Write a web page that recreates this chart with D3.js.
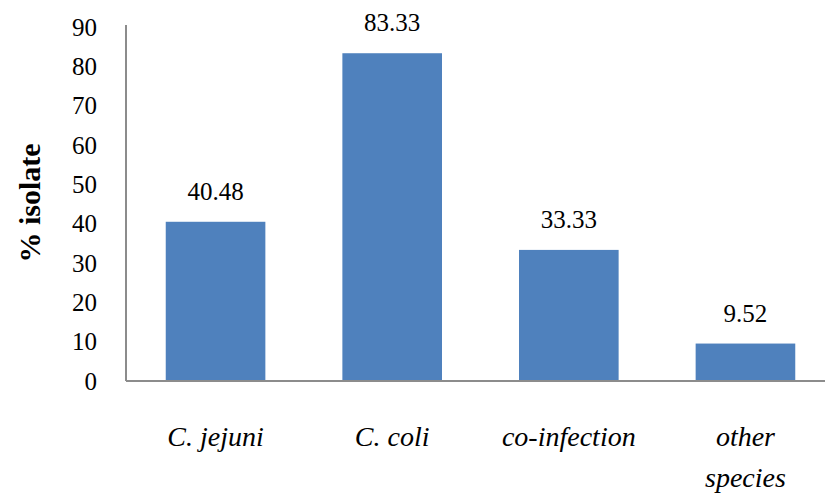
<!DOCTYPE html>
<html><head><meta charset="utf-8">
<script src="https://cdn.jsdelivr.net/npm/d3@7"></script>
</head><body style="margin:0;background:#fff">
<svg id="c" width="825" height="493" font-family="Liberation Serif"></svg>
<script>
const categories = [["C. jejuni"], ["C. coli"], ["co-infection"], ["other", "species"]];
const values = [40.48, 83.33, 33.33, 9.52];
const yTicks = [0, 10, 20, 30, 40, 50, 60, 70, 80, 90];

const svg = d3.select("#c");
const pLeft = 126, pRight = 835, pTop = 27, pBottom = 381;
const x = d3.scaleBand().domain(categories.map((d, i) => i)).range([pLeft, pRight]).paddingInner(0.436).paddingOuter(0.225);
const y = d3.scaleLinear().domain([0, 90]).range([pBottom, pTop]);
const FONT = "Liberation Serif";
function serif(sel) { return sel.attr("font-family", FONT).style("font-family", '"' + FONT + '"'); }

svg.selectAll("rect.bar").data(values).enter().append("rect")
  .attr("x", (d, i) => x(i)).attr("width", x.bandwidth())
  .attr("y", d => y(d)).attr("height", d => y(0) - y(d))
  .attr("fill", "#4F81BD");

const ya = svg.append("g").attr("transform", `translate(${pLeft},0)`)
  .call(d3.axisLeft(y).tickValues(yTicks).tickSize(0).tickPadding(29));
serif(ya);
ya.select(".domain").attr("stroke", "#8c8c8c").attr("stroke-width", 2)
  .attr("d", `M0,${pTop - 2}V${pBottom}`);
serif(ya.selectAll("text")).attr("font-size", 25).attr("fill", "#000");

svg.append("line").attr("x1", pLeft).attr("x2", 825).attr("y1", pBottom).attr("y2", pBottom)
  .attr("stroke", "#8c8c8c").attr("stroke-width", 2);

serif(svg.selectAll("text.val").data(values).enter().append("text"))
  .attr("x", (d, i) => x(i) + x.bandwidth() / 2).attr("y", d => y(d) - 22)
  .attr("text-anchor", "middle").attr("font-size", 25)
  .text(d => d.toFixed(2));

categories.forEach((lines, i) => {
  lines.forEach((t, j) => {
    serif(svg.append("text")).attr("x", x(i) + x.bandwidth() / 2).attr("y", 446 + j * 41)
      .attr("text-anchor", "middle").attr("font-size", 28)
      .attr("font-style", "italic").text(t);
  });
});

serif(svg.append("text")).attr("transform", "translate(40,203) rotate(-90)")
  .attr("text-anchor", "middle").attr("font-size", 30)
  .attr("font-weight", "bold").text("% isolate");
</script>
</body></html>
